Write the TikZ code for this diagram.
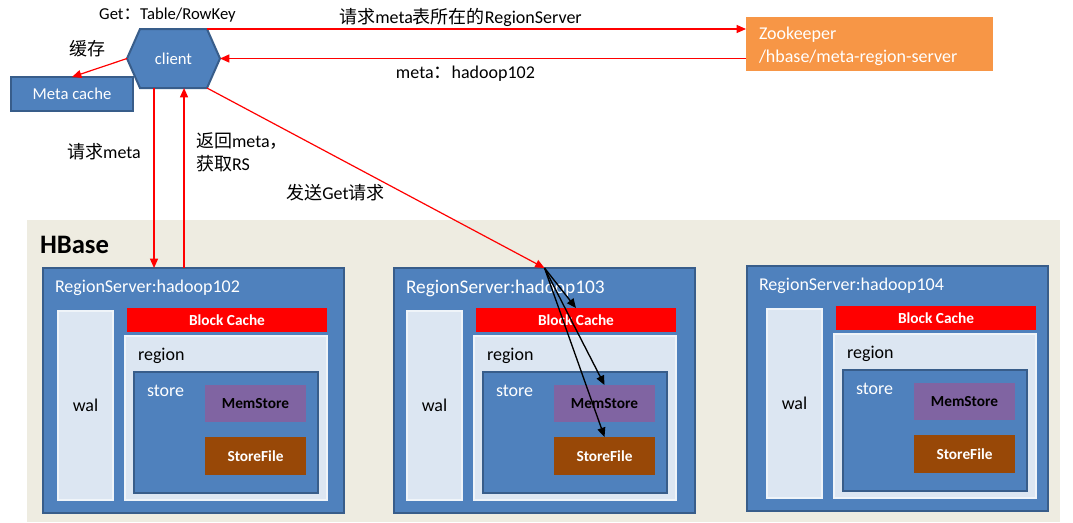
\documentclass[tikz,border=0pt]{standalone}
\usepackage{fontspec}
\setmainfont{Carlito}
\newfontfamily\cjk{Noto Sans CJK SC}
\usetikzlibrary{arrows.meta}
\pgfdeclarelayer{bg}
\pgfsetlayers{bg,main}
\definecolor{hbBlue}{HTML}{4F81BD}
\definecolor{hbBorder}{HTML}{385D8A}
\definecolor{hbLite}{HTML}{DCE6F2}
\definecolor{hbBeige}{HTML}{EEECE1}
\definecolor{hbOrange}{HTML}{F79646}
\definecolor{hbPurple}{HTML}{8064A2}
\definecolor{hbBrown}{HTML}{984807}
\newcommand\zh[1]{{\cjk #1}}
\newcommand\rect[7]{\node[#6, anchor=north west, minimum width={(#4-#2)*0.75pt}, minimum height={(#5-#3)*0.75pt}] (#1) at (#2,#3) {#7};}
\tikzset{
  plain/.style={inner sep=0pt, outer sep=0pt},
  lbl/.style={plain, font=\fontsize{13.5}{17}\selectfont},
  bluebox/.style={plain, draw=hbBorder, fill=hbBlue, line width=1.5pt},
  litebox/.style={plain, draw=white!55!hbLite, fill=hbLite, line width=1pt, font=\fontsize{13.5}{17}\selectfont},
  cachebox/.style={plain, fill=red, text=white, font=\fontsize{11.5}{14}\selectfont\bfseries},
  membox/.style={plain, fill=hbPurple, text=black, font=\fontsize{11.5}{14}\selectfont\bfseries},
  filebox/.style={plain, fill=hbBrown, text=white, font=\fontsize{11.5}{14}\selectfont\bfseries},
  redarrow/.style={draw=red, line width=0.9pt, -{Triangle[length=7pt,width=6pt]}},
  blackarrow/.style={draw=black, line width=1pt, -{Triangle[length=7pt,width=6pt]}},
}
\newcommand\rsunit[4]{%
  \rect{rs#1}{43}{268}{344}{513}{bluebox}{}
  \node[lbl, anchor=west, text=white, font=\fontsize{#3}{17}\selectfont] (rst#1) at (55,288) {#2};
  \begin{scope}[shift={(#4,0)}]
  \rect{wal#1}{58}{311}{113}{500}{litebox}{wal}
  \rect{bc#1}{127}{308}{327}{332}{cachebox}{Block Cache}
  \rect{reg#1}{125}{336}{327}{500}{litebox}{}
  \node[lbl, anchor=west] (regt#1) at (138,356) {region};
  \rect{st#1}{134}{372}{318}{493}{bluebox}{}
  \node[lbl, anchor=west, text=white] (stt#1) at (147,391) {store};
  \rect{mem#1}{205}{385}{306}{422}{membox}{MemStore}
  \rect{sf#1}{205}{437}{306}{475}{filebox}{StoreFile}
  \end{scope}
}
\begin{document}
\begin{tikzpicture}[x=0.75pt, y=-0.75pt]
\useasboundingbox (0,0) rectangle (1073,522);
% HBase area
\rect{hbase}{27}{220}{1060}{522}{plain, fill=hbBeige}{}
\node[plain, anchor=west, font=\fontsize{20}{24}\selectfont\bfseries] (hbt) at (40,245) {HBase};
\begin{scope}\rsunit{1}{RegionServer:hadoop102}{13.5}{0}\end{scope}
\begin{scope}[shift={(351,0)}]\rsunit{2}{RegionServer:hadoop103}{14.5}{-2}\end{scope}
\begin{scope}[shift={(704,-2)}]\rsunit{3}{RegionServer:hadoop104}{13.5}{5}\end{scope}
% client
\node[plain, anchor=north west, minimum width=69.75pt, minimum height=44.25pt, text=white, font=\fontsize{12.5}{15}\selectfont] (client) at (127,29) {client};
\begin{pgfonlayer}{bg}
\filldraw[fill=hbBlue, draw=hbBorder, line width=1.5pt] (client.west) -- ([xshift=9.75pt]client.north west) -- ([xshift=-9.75pt]client.north east) -- (client.east) -- ([xshift=-9.75pt]client.south east) -- ([xshift=9.75pt]client.south west) -- cycle;
\end{pgfonlayer}
% meta cache
\rect{mc}{11}{77}{133}{111}{bluebox, text=white, font=\fontsize{12.5}{15}\selectfont}{Meta cache}
% zookeeper
\rect{zk}{746}{17}{993}{71}{plain, fill=hbOrange}{}
\node[lbl, anchor=west, align=left, text=white] (zkt) at (759,46.5) {Zookeeper\\/hbase/meta-region-server};
% labels
\node[lbl, font=\fontsize{12.5}{15}\selectfont] (getlbl) at (167.5,15) {Get\zh{：}Table/RowKey};
\node[lbl] (cachelbl) at (87,49) {\zh{缓存}};
\node[lbl] (zkreq) at (460.5,17) {\zh{请求}meta\zh{表所在的}RegionServer};
\node[lbl] (zkresp) at (465.5,74) {meta\zh{：}hadoop102};
\node[lbl] (reqmeta) at (104,152) {\zh{请求}meta};
\node[lbl, anchor=north west, align=left] (retmeta) at (196,133) {\zh{返回}meta\zh{，}\\\zh{获取}RS};
\node[lbl] (getreq) at (335.5,193) {\zh{发送}Get\zh{请求}};
% connectors
\coordinate (cTR) at ([xshift=-9.75pt]client.north east);
\draw[redarrow] (cTR) -- (cTR -| zk.west);
\draw[redarrow] (client.east -| zk.west) -- (client.east);
\draw[redarrow] (client.west) -- (mc.north);
\coordinate (cDown) at ([xshift=-14.6pt]client.south);
\draw[redarrow] (cDown) -- (cDown |- rs1.north);
\coordinate (cUp) at ([xshift=7.9pt]client.south);
\draw[redarrow] (cUp |- rs1.north) -- (cUp);
\coordinate (cBR) at ([xshift=-9.75pt]client.south east);
\draw[redarrow] (cBR) -- (rs2.north);
\draw[blackarrow] (rs2.north) -- (bc2.north);
\draw[blackarrow] (rs2.north) -- (mem2.north);
\draw[blackarrow] (rs2.north) -- (sf2.north);
\end{tikzpicture}
\end{document}
